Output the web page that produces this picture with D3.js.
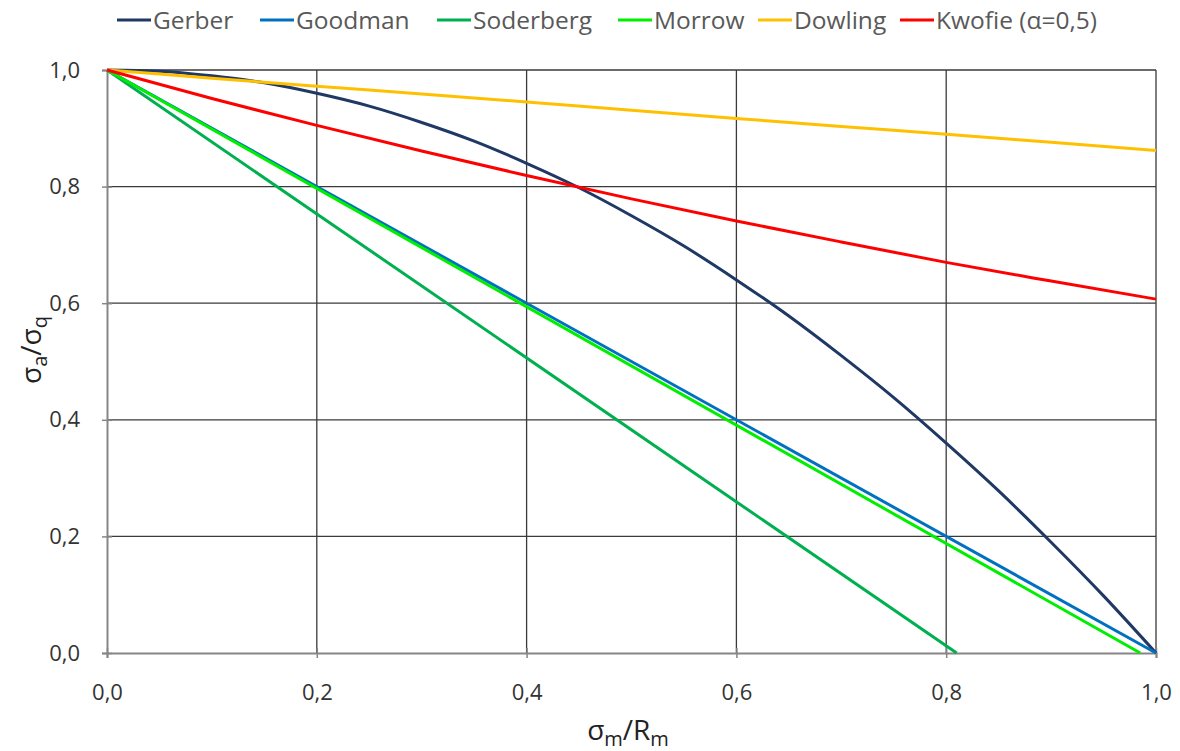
<!DOCTYPE html>
<html>
<head>
<meta charset="utf-8">
<script src="https://cdn.jsdelivr.net/npm/d3@7"></script>
<style>
  body { margin: 0; background: #fff; }
  svg { display: block; font-family: "Open Sans", sans-serif; }
</style>
</head>
<body>
<div id="chart"></div>
<script>
// values
const xFine = [0, 0.05, 0.1, 0.15, 0.2, 0.25, 0.3, 0.35, 0.4, 0.45, 0.5,
  0.55, 0.6, 0.65, 0.7, 0.75, 0.8, 0.85, 0.9, 0.95, 1.0];
const gerberY = [1, 0.998, 0.99, 0.978, 0.96, 0.938, 0.91, 0.878, 0.84, 0.798, 0.75,
  0.698, 0.64, 0.578, 0.51, 0.438, 0.36, 0.278, 0.19, 0.098, 0];

const xTenth = [0, 0.1, 0.2, 0.3, 0.4, 0.5, 0.6, 0.7, 0.8, 0.9, 1.0];
const kwofieY = [1, 0.951, 0.905, 0.861, 0.819, 0.779, 0.741, 0.705, 0.67, 0.638, 0.607];
const dowlingY = [1, 0.986, 0.972, 0.959, 0.945, 0.931, 0.917, 0.903, 0.89, 0.876, 0.862];

const goodmanX = [0, 1.0];
const goodmanY = [1, 0];
const soderbergX = [0, 0.81];
const soderbergY = [1, 0];
const morrowX = [0, 0.985];
const morrowY = [1, 0];

const seriesNames = ["Gerber", "Goodman", "Soderberg", "Morrow", "Dowling", "Kwofie (α=0,5)"];
const seriesColors = ["#1f3864", "#0070c0", "#00b050", "#00ee00", "#ffc000", "#ff0000"];
const xTicks = [0, 0.2, 0.4, 0.6, 0.8, 1.0];
const yTicks = [0, 0.2, 0.4, 0.6, 0.8, 1.0];

const series = [
  { xs: xFine, ys: gerberY },
  { xs: goodmanX, ys: goodmanY },
  { xs: soderbergX, ys: soderbergY },
  { xs: morrowX, ys: morrowY },
  { xs: xTenth, ys: dowlingY },
  { xs: xTenth, ys: kwofieY }
].map((s, i) => ({
  name: seriesNames[i],
  color: seriesColors[i],
  points: s.xs.map((x, j) => [x, s.ys[j]])
}));

const width = 1180, height = 751;
const margin = { top: 70, right: 24, bottom: 98, left: 107 };
const innerW = width - margin.left - margin.right;
const innerH = height - margin.top - margin.bottom;

const svg = d3.select("#chart").append("svg")
  .attr("width", width)
  .attr("height", height);

const g = svg.append("g").attr("transform", `translate(${margin.left},${margin.top})`);

const x = d3.scaleLinear().domain([0, 1]).range([0, innerW]);
const y = d3.scaleLinear().domain([0, 1]).range([innerH, 0]);
const fmt = d => d3.format(".1f")(d).replace(".", ",");

// grid
g.append("g").selectAll("line")
  .data(xTicks.filter(d => d > 0))
  .enter().append("line")
  .attr("x1", d => x(d)).attr("x2", d => x(d))
  .attr("y1", 0).attr("y2", innerH)
  .attr("stroke", "#3a3a3a").attr("stroke-width", 1.3);

g.append("g").selectAll("line")
  .data(yTicks.filter(d => d > 0))
  .enter().append("line")
  .attr("x1", 0).attr("x2", innerW)
  .attr("y1", d => y(d)).attr("y2", d => y(d))
  .attr("stroke", "#3a3a3a").attr("stroke-width", 1.3);

// axes
const xAxis = g.append("g")
  .attr("transform", `translate(0,${innerH})`)
  .call(d3.axisBottom(x).tickValues(xTicks).tickFormat(fmt).tickSize(5).tickPadding(26));
const yAxis = g.append("g")
  .call(d3.axisLeft(y).tickValues(yTicks).tickFormat(fmt).tickSize(5).tickPadding(22));

[xAxis, yAxis].forEach(a => {
  a.select(".domain").attr("stroke", "#868686").attr("stroke-width", 2);
  a.selectAll(".tick line").attr("stroke", "#868686").attr("stroke-width", 1.5);
  a.selectAll(".tick text")
    .attr("font-family", "'Open Sans', sans-serif")
    .attr("font-size", 22)
    .attr("fill", "#333");
});
yAxis.selectAll(".tick line").attr("x2", 5).attr("x1", -5);
xAxis.selectAll(".tick line").attr("y1", -5).attr("y2", 5);

// series
const line = d3.line().curve(d3.curveMonotoneX).x(d => x(d[0])).y(d => y(d[1]));
g.append("g").selectAll("path")
  .data(series)
  .enter().append("path")
  .attr("fill", "none")
  .attr("stroke", d => d.color)
  .attr("stroke-width", 3)
  .attr("stroke-linejoin", "round")
  .attr("d", d => line(d.points));

// axis titles
const xt = svg.append("text")
  .attr("x", 628).attr("y", 740)
  .attr("text-anchor", "middle")
  .attr("font-size", 28)
  .attr("fill", "#222");
xt.append("tspan").text("σ");
xt.append("tspan").attr("font-size", 20).attr("dy", 6).text("m");
xt.append("tspan").attr("dy", -6).text("/R");
xt.append("tspan").attr("font-size", 20).attr("dy", 6).text("m");

const yt = svg.append("text")
  .attr("transform", "translate(41,350) rotate(-90)")
  .attr("text-anchor", "middle")
  .attr("font-size", 28)
  .attr("fill", "#222");
yt.append("tspan").text("σ");
yt.append("tspan").attr("font-size", 20).attr("dy", 6).text("a");
yt.append("tspan").attr("dy", -6).text("/σ");
yt.append("tspan").attr("font-size", 20).attr("dy", 6).text("q");

// legend
const legendX = [117, 260, 437, 618, 758, 900];
const legend = svg.append("g").selectAll("g")
  .data(series)
  .enter().append("g")
  .attr("transform", (d, i) => `translate(${legendX[i]},20)`);
legend.append("line")
  .attr("x1", 0).attr("x2", 34)
  .attr("stroke", d => d.color)
  .attr("stroke-width", 3);
legend.append("text")
  .attr("x", 36).attr("y", 9)
  .attr("font-size", 24.5)
  .attr("fill", "#595959")
  .text(d => d.name);
</script>
</body>
</html>
